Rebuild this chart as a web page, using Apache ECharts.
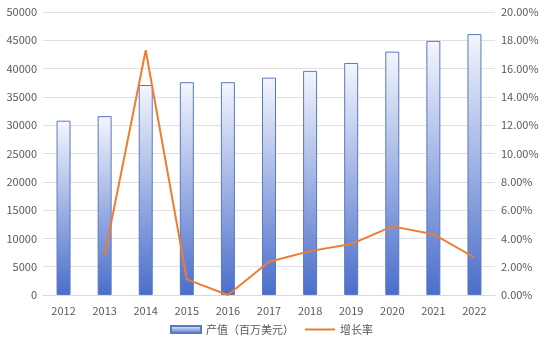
<!DOCTYPE html>
<html lang="zh">
<head>
    <meta charset="UTF-8">
    <title>产值与增长率</title>
    <style>
        html, body {
            margin: 0;
            padding: 0;
            background: #fff;
        }
        #chart {
            width: 543px;
            height: 354px;
        }
    </style>
    <script src="https://cdn.jsdelivr.net/npm/echarts@6/dist/echarts.min.js"></script>
</head>
<body>
    <div id="chart"></div>
    <script>
        const years = ['2012', '2013', '2014', '2015', '2016', '2017', '2018', '2019', '2020', '2021', '2022'];
        const outputValue = [30800, 31600, 37100, 37600, 37600, 38400, 39600, 41000, 43000, 44900, 46100];
        const growthRate = [null, 2.8, 17.3, 1.1, 0.0, 2.35, 3.1, 3.6, 4.85, 4.3, 2.65];

        const labelColor = '#595959';
        const font = '"Noto Sans CJK SC", "Noto Sans", sans-serif';

        const chart = echarts.init(document.getElementById('chart'));
        chart.setOption({
            animation: false,
            grid: { left: 43, right: 48, top: 12, bottom: 59 },
            legend: {
                bottom: 14,
                left: 'center',
                itemWidth: 30,
                itemHeight: 7,
                itemGap: 10,
                textStyle: { color: labelColor, fontSize: 11, fontFamily: font },
                data: [
                    { name: '产值（百万美元）', icon: 'rect' },
                    { name: '增长率', itemStyle: { opacity: 0 } }
                ]
            },
            xAxis: {
                type: 'category',
                data: years,
                axisTick: { show: false },
                axisLine: { lineStyle: { color: '#d9d9d9' } },
                axisLabel: { color: labelColor, fontSize: 11, fontFamily: font, margin: 10 }
            },
            yAxis: [
                {
                    type: 'value',
                    min: 0,
                    max: 50000,
                    interval: 5000,
                    axisLabel: {
                        color: labelColor, fontSize: 11, fontFamily: font, margin: 6,
                        formatter: v => String(v)
                    },
                    splitLine: { lineStyle: { color: '#e0e0e0' } }
                },
                {
                    type: 'value',
                    min: 0,
                    max: 20,
                    interval: 2,
                    axisLabel: {
                        color: labelColor, fontSize: 11, fontFamily: font, margin: 6,
                        formatter: v => v.toFixed(2) + '%'
                    },
                    splitLine: { show: false }
                }
            ],
            series: [
                {
                    name: '产值（百万美元）',
                    type: 'bar',
                    data: outputValue,
                    barWidth: 14,
                    itemStyle: {
                        color: new echarts.graphic.LinearGradient(0, 0, 0, 1, [
                            { offset: 0, color: '#f4f6fd' },
                            { offset: 1, color: '#4a6ecb' }
                        ]),
                        borderColor: '#5a79c0',
                        borderWidth: 1
                    }
                },
                {
                    name: '增长率',
                    type: 'line',
                    yAxisIndex: 1,
                    data: growthRate,
                    symbol: 'none',
                    lineStyle: { color: '#ed7d31', width: 2 },
                    itemStyle: { color: '#ed7d31' }
                }
            ]
        });
    </script>
</body>
</html>
